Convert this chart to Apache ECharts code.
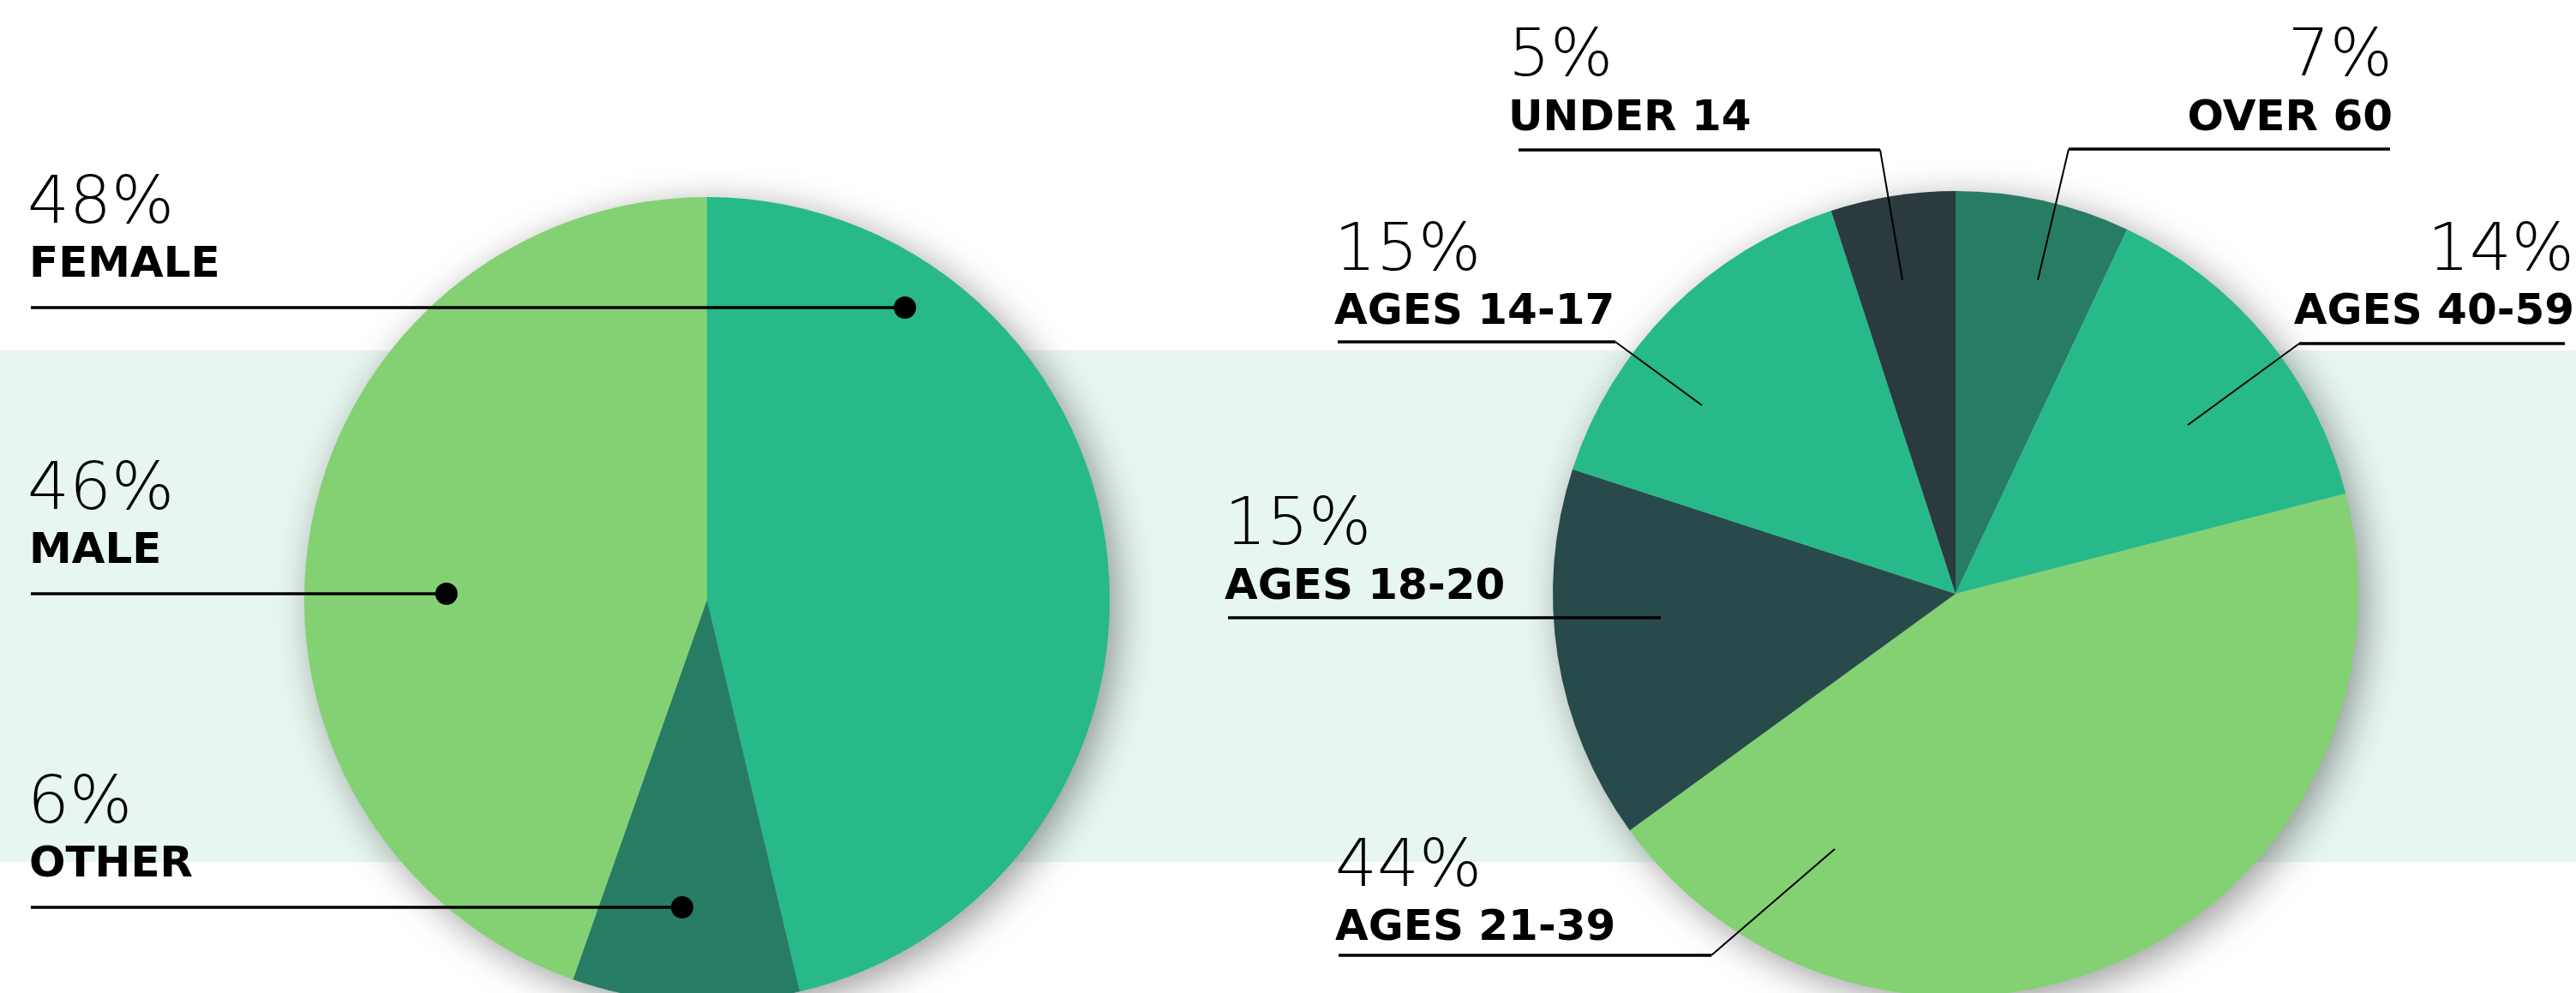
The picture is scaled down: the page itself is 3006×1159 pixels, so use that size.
<!DOCTYPE html>
<html>
<head>
<meta charset="utf-8">
<script src="https://cdn.jsdelivr.net/npm/echarts@6/dist/echarts.min.js"></script>
<style>
html,body{margin:0;padding:0;background:#fff;}
#chart{width:3006px;height:1159px;}
</style>
</head>
<body>
<div id="chart"></div>
<script>
// ---- data (clockwise from 12 o'clock) ----
const genderNames = ['FEMALE', 'OTHER', 'MALE'];
const genderLabels = ['48%', '6%', '46%'];
const genderSlices = [46.3, 9.1, 44.6];   // slice sizes as drawn

const ageNames = ['OVER 60', 'AGES 40-59', 'AGES 21-39', 'AGES 18-20', 'AGES 14-17', 'UNDER 14'];
const ageLabels = ['7%', '14%', '44%', '15%', '15%', '5%'];
const ageValues = [7, 14, 44, 15, 15, 5];

// ---- styles ----
const TEAL = '#27b98a', LIGHT = '#84d174', DKGREEN = '#277d63', SLATE = '#294a4b', DARKEST = '#2a3a3d';
const genderColors = [TEAL, DKGREEN, LIGHT];
const ageColors = [DKGREEN, TEAL, LIGHT, SLATE, TEAL, DARKEST];

const PCT_FONT = '200 77px "DejaVu Sans ExtraLight", "DejaVu Sans", sans-serif';
const LBL_FONT = 'bold 50px "DejaVu Sans", sans-serif';

const chart = echarts.init(document.getElementById('chart'), null, {renderer: 'canvas'});

function pieSeries(names, values, colors, center) {
  return {
    type: 'pie', center: center, radius: 470, startAngle: 90, clockwise: true,
    silent: true, z: 3, label: {show: false}, labelLine: {show: false},
    emphasis: {disabled: true},
    data: names.map((n, i) => ({name: n, value: values[i], itemStyle: {color: colors[i]}}))
  };
}
function shadowSeries(center) {
  return {
    type: 'pie', center: center, radius: 469, silent: true, z: 2,
    label: {show: false}, labelLine: {show: false}, emphasis: {disabled: true},
    data: [{value: 1, name: '', itemStyle: {color: '#9fb7ad', shadowBlur: 45, shadowOffsetX: 10, shadowOffsetY: 10, shadowColor: 'rgba(0,0,0,0.4)'}}]
  };
}

function txt(x, y, text, font, align) {
  return {type: 'text', z: 100, silent: true,
    style: {x: x, y: y, text: text, font: font, fill: '#000', align: align || 'left', verticalAlign: 'middle'}};
}
function seg(points, w) {
  return {type: 'polyline', z: 100, silent: true, shape: {points: points},
    style: {stroke: '#000', lineWidth: w, fill: null}};
}
function dot(x, y) {
  return {type: 'circle', z: 101, silent: true, shape: {cx: x, cy: y, r: 13}, style: {fill: '#000'}};
}

const graphics = [
  {type: 'rect', z: -10, silent: true, shape: {x: 0, y: 409, width: 3006, height: 597}, style: {fill: '#e7f6f0'}}
];

// left pie annotations: [index, lineY, dotX]
[[0, 359, 1056], [2, 693, 521], [1, 1059, 796]].forEach(([i, ly, dx]) => {
  graphics.push(txt(32, ly - 119, genderLabels[i], PCT_FONT));
  graphics.push(txt(34, ly - 49, genderNames[i], LBL_FONT));
  graphics.push(seg([[36, ly], [dx, ly]], 3.5));
  graphics.push(dot(dx, ly));
});

// right pie annotations
function ageAnno(i, pctY, lblY, x, align) {
  graphics.push(txt(x, pctY + 5, ageLabels[i], PCT_FONT, align));
  graphics.push(txt(x, lblY + 3, ageNames[i], LBL_FONT, align));
}
ageAnno(5, 63, 136, 1760, 'left');
ageAnno(0, 63, 136, 2792, 'right');
ageAnno(4, 290, 362, 1557, 'left');
ageAnno(1, 290, 362, 3004, 'right');
ageAnno(3, 610, 683, 1429, 'left');
ageAnno(2, 1009, 1081, 1558, 'left');

graphics.push(seg([[1772, 175], [2194, 175]], 3.5));
graphics.push(seg([[2194, 175], [2220, 327]], 2));
graphics.push(seg([[2789, 174], [2414, 174]], 3.5));
graphics.push(seg([[2414, 174], [2378, 327]], 2));
graphics.push(seg([[1561, 399], [1885, 399]], 3.5));
graphics.push(seg([[1885, 399], [1986, 473]], 2));
graphics.push(seg([[2993, 401], [2683, 401]], 3.5));
graphics.push(seg([[2683, 401], [2553, 496]], 2));
graphics.push(seg([[1433, 721], [1938, 721]], 3.5));
graphics.push(seg([[1562, 1115], [1997, 1115]], 3.5));
graphics.push(seg([[1997, 1115], [2141, 991]], 2));

chart.setOption({
  animation: false,
  backgroundColor: '#ffffff',
  graphic: {elements: graphics},
  series: [
    shadowSeries([825, 700]),
    pieSeries(genderNames, genderSlices, genderColors, [825, 700]),
    shadowSeries([2282, 693]),
    pieSeries(ageNames, ageValues, ageColors, [2282, 693])
  ]
});
</script>
</body>
</html>
